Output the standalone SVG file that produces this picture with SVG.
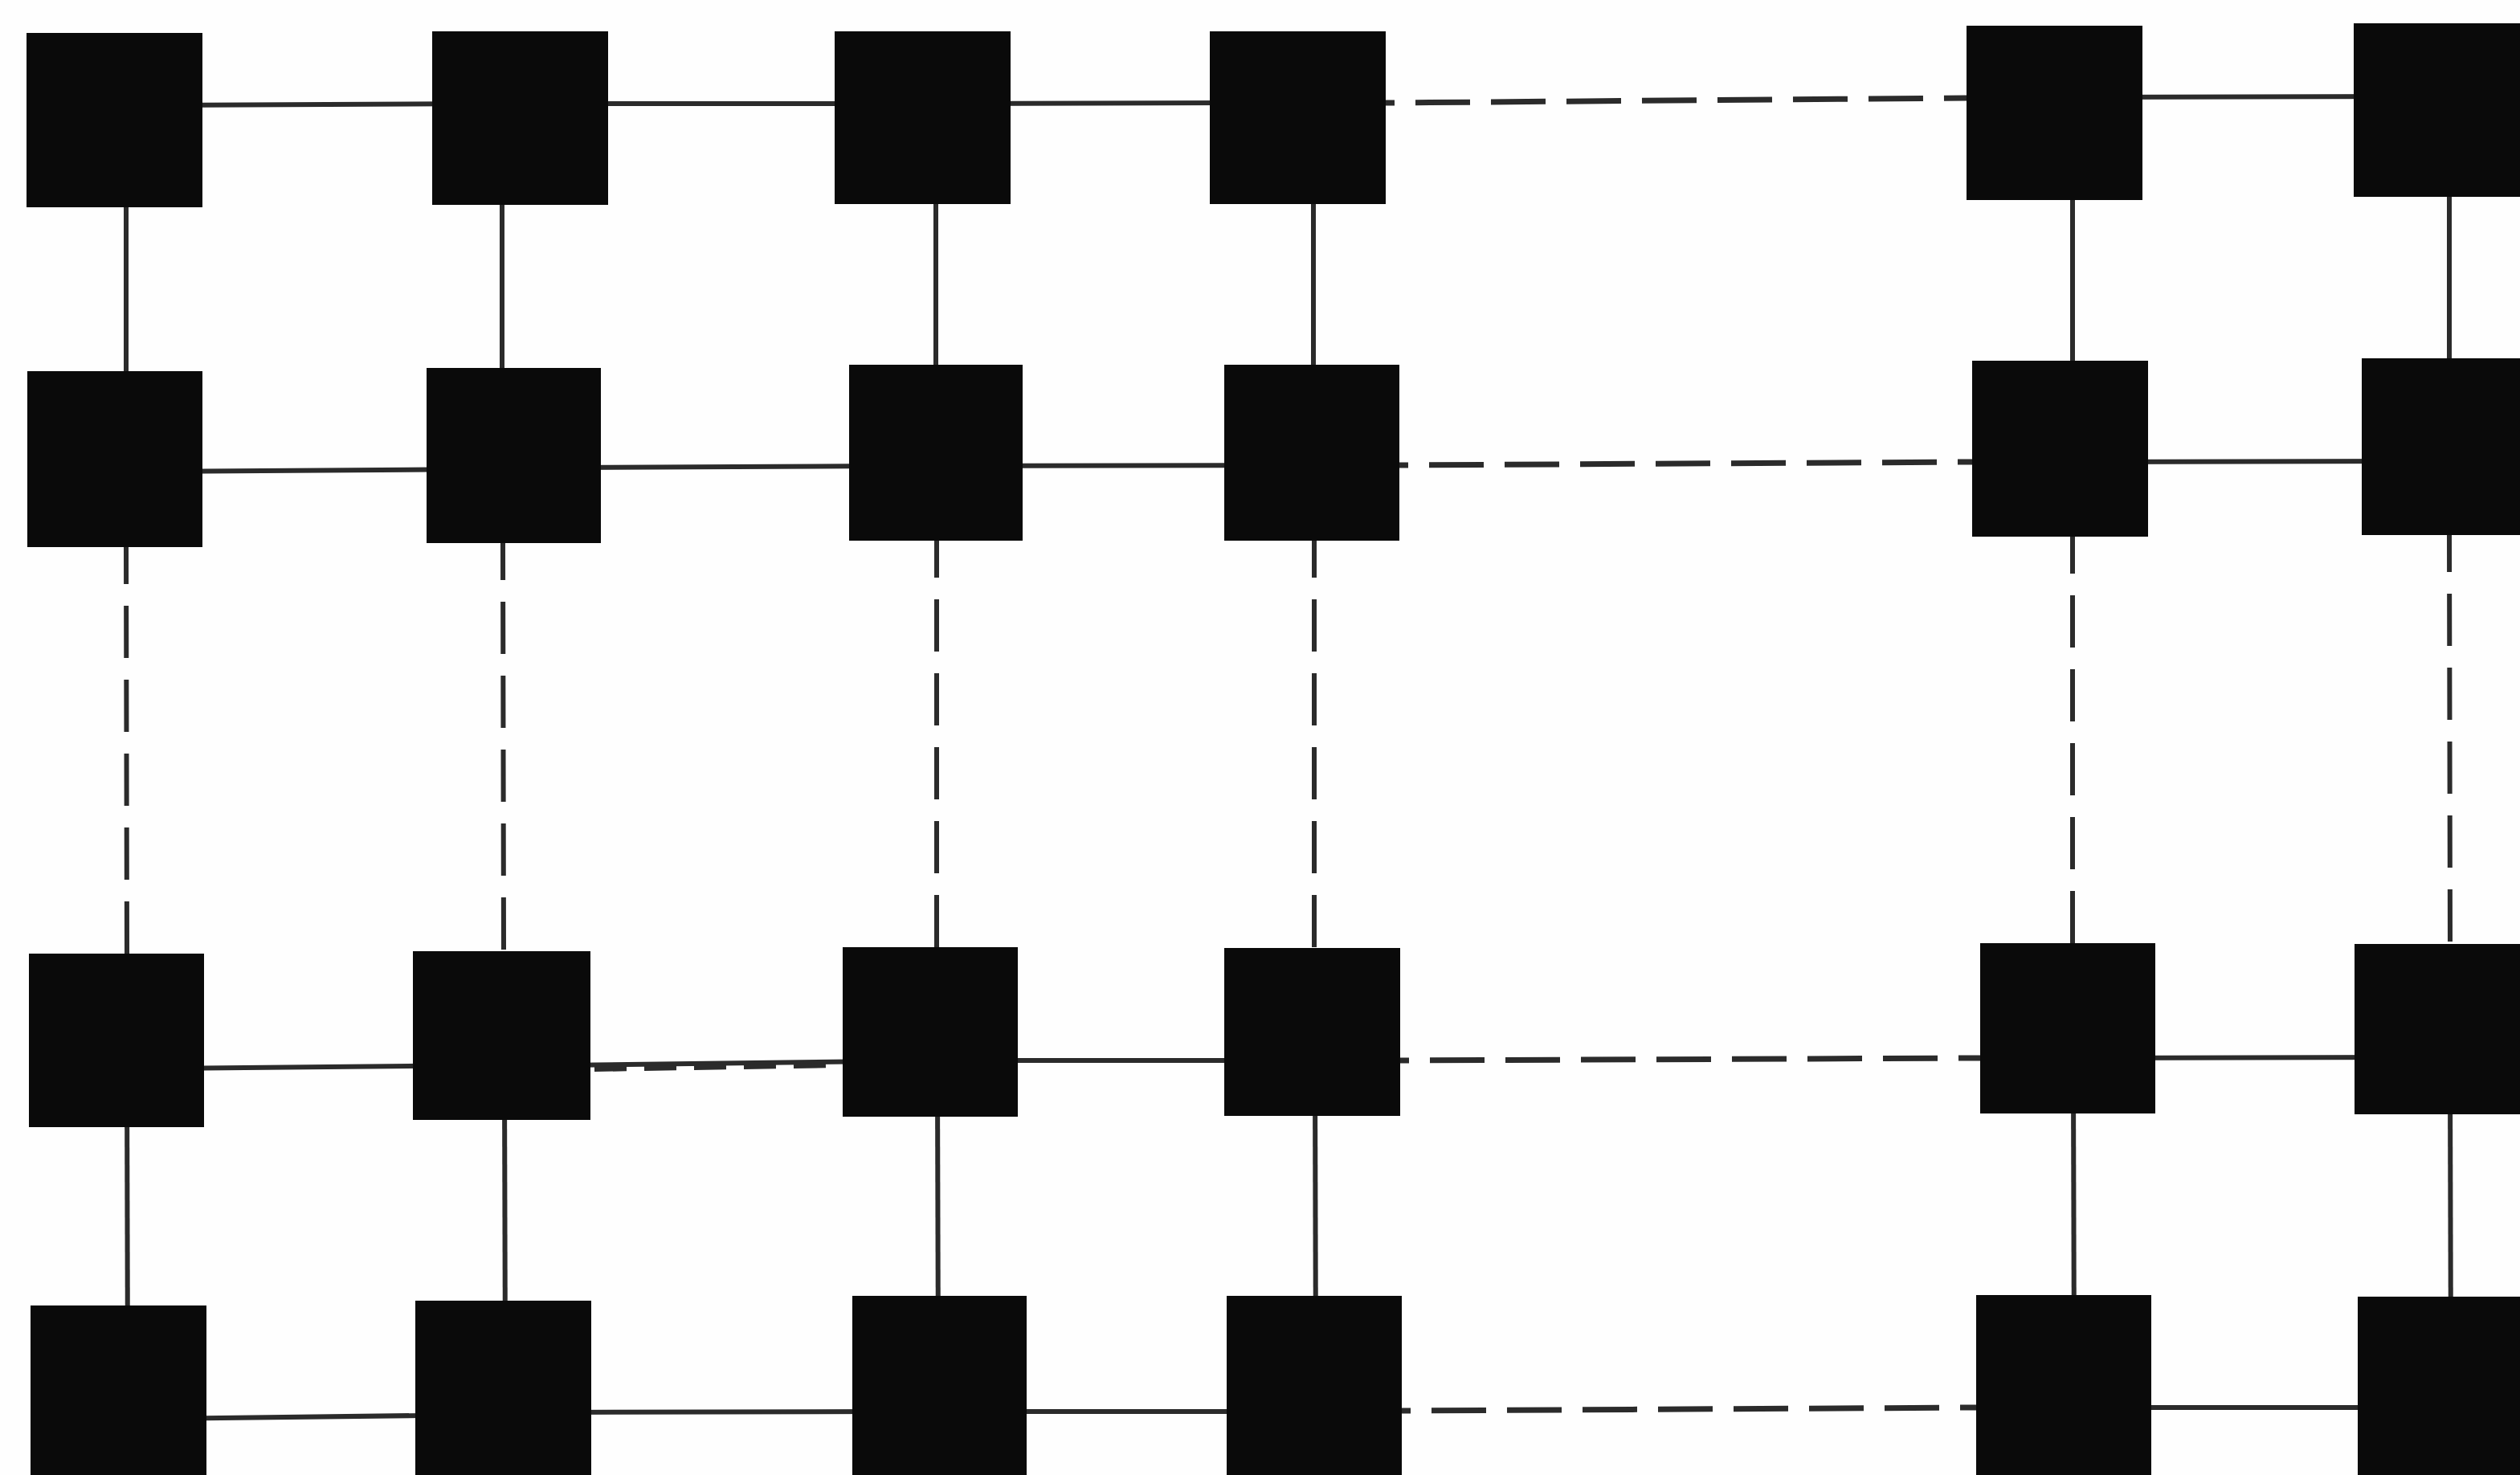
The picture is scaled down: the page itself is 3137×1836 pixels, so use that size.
<svg xmlns="http://www.w3.org/2000/svg" width="3137" height="1836" viewBox="0 0 3137 1836">
<style>
.bg{fill:#fefefe}
.n{fill:#0a0a0a}
.s{stroke:#2b2b2b;stroke-width:6;fill:none}
.dh{stroke:#2b2b2b;stroke-width:7;fill:none;stroke-dasharray:68 26;stroke-dashoffset:57}
.dv{stroke:#2b2b2b;stroke-width:6;fill:none;stroke-dasharray:65 27;stroke-dashoffset:19}
.dw{stroke:#2b2b2b;stroke-width:6;fill:none;stroke-dasharray:40 22}
</style>
<rect class="bg" x="0" y="0" width="3137" height="1836"/>
<g id="connectors">
<line class="s" x1="200" y1="131" x2="600" y2="129"/>
<line class="s" x1="700" y1="129" x2="1100" y2="129"/>
<line class="s" x1="1200" y1="129" x2="1560" y2="128"/>
<line class="dh" x1="1725" y1="128" x2="2448" y2="122"/>
<line class="s" x1="2600" y1="121" x2="3000" y2="120"/>
<line class="s" x1="200" y1="587" x2="600" y2="584"/>
<line class="s" x1="700" y1="582" x2="1100" y2="580"/>
<line class="s" x1="1200" y1="580" x2="1600" y2="579"/>
<line class="dh" x1="1742" y1="579" x2="2455" y2="575"/>
<line class="s" x1="2600" y1="575" x2="3000" y2="574"/>
<line class="s" x1="200" y1="1330" x2="600" y2="1326"/>
<line class="s" x1="700" y1="1326" x2="1100" y2="1321"/>
<line class="dw" x1="740" y1="1331" x2="1049" y2="1326"/>
<line class="s" x1="1200" y1="1320" x2="1600" y2="1320"/>
<line class="dh" x1="1743" y1="1320" x2="2465" y2="1317"/>
<line class="s" x1="2600" y1="1317" x2="3000" y2="1316"/>
<line class="s" x1="200" y1="1766" x2="600" y2="1761"/>
<line class="s" x1="700" y1="1758" x2="1100" y2="1757"/>
<line class="s" x1="1200" y1="1757" x2="1600" y2="1757"/>
<line class="dh" x1="1745" y1="1756" x2="2460" y2="1752"/>
<line class="s" x1="2600" y1="1752" x2="3000" y2="1752"/>
<line class="s" x1="157" y1="200" x2="157" y2="500"/>
<line class="dv" x1="157" y1="681" x2="158" y2="1187"/>
<line class="s" x1="158" y1="1350" x2="159" y2="1700"/>
<line class="s" x1="625" y1="200" x2="625" y2="500"/>
<line class="dv" x1="626" y1="676" x2="627" y2="1184"/>
<line class="s" x1="628" y1="1350" x2="629" y2="1700"/>
<line class="s" x1="1165" y1="200" x2="1165" y2="500"/>
<line class="dv" x1="1166" y1="673" x2="1166" y2="1179"/>
<line class="s" x1="1167" y1="1350" x2="1168" y2="1700"/>
<line class="s" x1="1635" y1="200" x2="1635" y2="500"/>
<line class="dv" x1="1636" y1="673" x2="1636" y2="1180"/>
<line class="s" x1="1637" y1="1350" x2="1638" y2="1700"/>
<line class="s" x1="2580" y1="200" x2="2580" y2="500"/>
<line class="dv" x1="2580" y1="668" x2="2580" y2="1174"/>
<line class="s" x1="2581" y1="1350" x2="2582" y2="1700"/>
<line class="s" x1="3049" y1="200" x2="3049" y2="500"/>
<line class="dv" x1="3049" y1="666" x2="3050" y2="1175"/>
<line class="s" x1="3050" y1="1350" x2="3051" y2="1700"/>
</g>
<g id="n-r1c1"><rect class="n" x="33" y="41" width="219" height="217"/></g>
<g id="n-r1c2"><rect class="n" x="538" y="39" width="219" height="216"/></g>
<g id="n-r1c3"><rect class="n" x="1039" y="39" width="219" height="215"/></g>
<g id="n-r1c4"><rect class="n" x="1506" y="39" width="219" height="215"/></g>
<g id="n-r1c5"><rect class="n" x="2448" y="32" width="219" height="217"/></g>
<g id="n-r1c6"><rect class="n" x="2930" y="29" width="220" height="216"/></g>
<g id="n-r2c1"><rect class="n" x="34" y="462" width="218" height="219"/></g>
<g id="n-r2c2"><rect class="n" x="531" y="458" width="217" height="218"/></g>
<g id="n-r2c3"><rect class="n" x="1057" y="454" width="216" height="219"/></g>
<g id="n-r2c4"><rect class="n" x="1524" y="454" width="218" height="219"/></g>
<g id="n-r2c5"><rect class="n" x="2455" y="449" width="219" height="219"/></g>
<g id="n-r2c6"><rect class="n" x="2940" y="446" width="220" height="220"/></g>
<g id="n-r3c1"><rect class="n" x="36" y="1187" width="218" height="216"/></g>
<g id="n-r3c2"><rect class="n" x="514" y="1184" width="221" height="210"/></g>
<g id="n-r3c3"><rect class="n" x="1049" y="1179" width="218" height="211"/></g>
<g id="n-r3c4"><rect class="n" x="1524" y="1180" width="219" height="209"/></g>
<g id="n-r3c5"><rect class="n" x="2465" y="1174" width="218" height="212"/></g>
<g id="n-r3c6"><rect class="n" x="2931" y="1175" width="220" height="212"/></g>
<g id="n-r4c1"><rect class="n" x="38" y="1625" width="219" height="215"/></g>
<g id="n-r4c2"><rect class="n" x="517" y="1619" width="219" height="221"/></g>
<g id="n-r4c3"><rect class="n" x="1061" y="1613" width="217" height="227"/></g>
<g id="n-r4c4"><rect class="n" x="1527" y="1613" width="218" height="227"/></g>
<g id="n-r4c5"><rect class="n" x="2460" y="1612" width="218" height="228"/></g>
<g id="n-r4c6"><rect class="n" x="2935" y="1614" width="216" height="226"/></g>
</svg>
